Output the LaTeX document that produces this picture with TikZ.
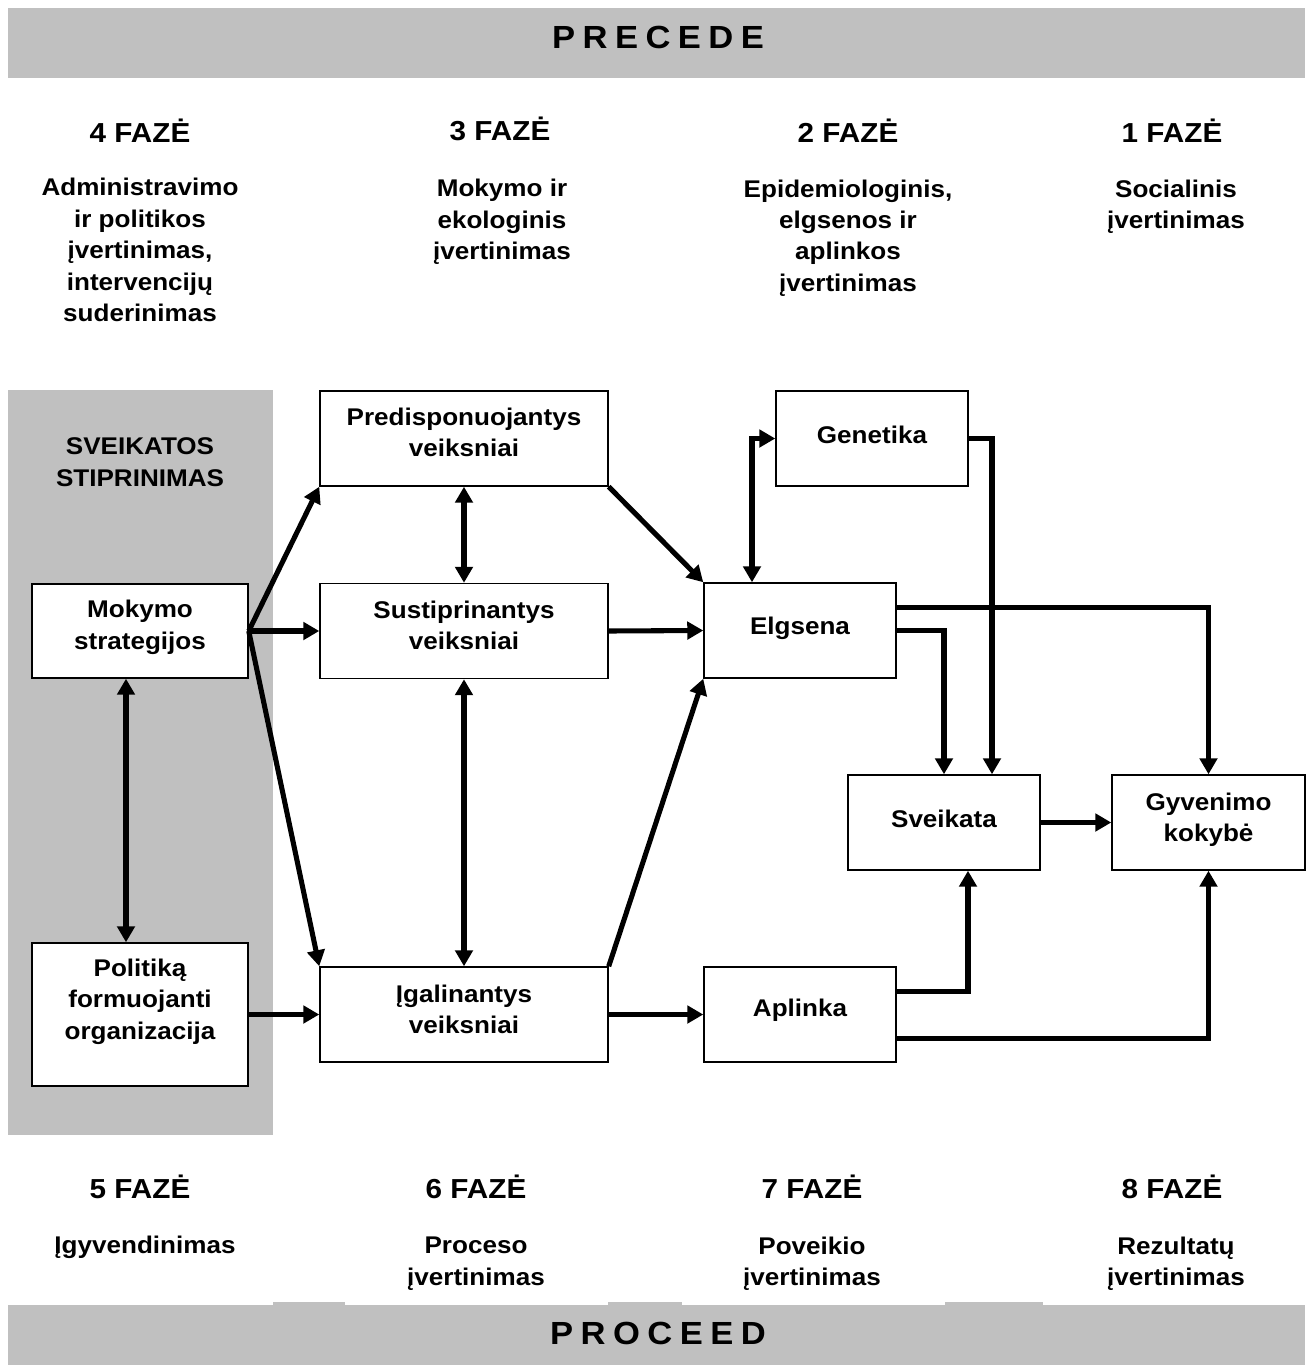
\documentclass[tikz,border=0pt]{standalone}
\usepackage{fontspec}
\setmainfont{Liberation Sans}[FakeStretch=1.08]
\usetikzlibrary{arrows.meta,calc}
\definecolor{bargray}{HTML}{C0C0C0}
\tikzset{
  box/.style={draw, line width=1.1pt, fill=white, inner sep=0pt},
  boxtext/.style={align=center, inner sep=0pt, font=\bfseries\fontsize{18.1}{23.6}\selectfont},
  arr/.style={line width=3.8pt, -{Triangle[length=12pt,width=13pt]}},
  dbl/.style={line width=3.8pt, {Triangle[length=12pt,width=13pt]}-{Triangle[length=12pt,width=13pt]}},
  phase/.style={font=\bfseries\fontsize{20.6}{24}\selectfont},
  desc/.style={align=center, font=\bfseries\fontsize{18.1}{23.6}\selectfont},
  bartext/.style={font=\bfseries\fontsize{24}{28}\selectfont},
}
\newcommand{\lsp}{\hspace{5.6pt}}
\begin{document}
\begin{tikzpicture}[x=0.75pt,y=-0.75pt]
\useasboundingbox (0,0) rectangle (1313,1367);
% bars and gray column
\fill[bargray] (8,8) rectangle (1305,78);
\fill[bargray] (8,1305) rectangle (1305,1365);
\fill[bargray] (273,1302) rectangle (345,1305);
\fill[bargray] (608,1302) rectangle (682,1305);
\fill[bargray] (945,1302) rectangle (1043,1305);
\fill[bargray] (8,390) rectangle (273,1135);
\node[bartext] (precede) at (658,37) {P\lsp R\lsp E\lsp C\lsp E\lsp D\lsp E};
\node[bartext] (proceed) at (658,1333) {P\lsp R\lsp O\lsp C\lsp E\lsp E\lsp D};
% phase headers top
\node[phase] (f4) at (140,131) {4 FAZĖ};
\node[phase] (f3) at (500,129) {3 FAZĖ};
\node[phase] (f2) at (848,131) {2 FAZĖ};
\node[phase] (f1) at (1172,131) {1 FAZĖ};
\node[desc] (d4) at (140,250) {Administravimo\\ir politikos\\įvertinimas,\\intervencijų\\suderinimas};
\node[desc] (d3) at (502,222) {Mokymo ir\\ekologinis\\įvertinimas};
\node[desc] (d2) at (848,238) {Epidemiologinis,\\elgsenos ir\\aplinkos\\įvertinimas};
\node[desc] (d1) at (1176,207) {Socialinis\\įvertinimas};
% phase headers bottom
\node[phase] (f5) at (140,1187) {5 FAZĖ};
\node[phase] (f6) at (476,1187) {6 FAZĖ};
\node[phase] (f7) at (812,1187) {7 FAZĖ};
\node[phase] (f8) at (1172,1187) {8 FAZĖ};
\node[desc] (d5) at (145,1247.5) {Įgyvendinimas};
\node[desc] (d6) at (476,1263.5) {Proceso\\įvertinimas};
\node[desc] (d7) at (812,1263.5) {Poveikio\\įvertinimas};
\node[desc] (d8) at (1176,1263.5) {Rezultatų\\įvertinimas};
% column title
\node[desc] (ss) at (140,462) {SVEIKATOS\\STIPRINIMAS};
% boxes
\node[box, minimum width=162pt, minimum height=70.5pt] (ms) at (140,631) {};
\node[box, minimum width=162pt, minimum height=107.25pt] (po) at (140,1014.5) {};
\node[box, minimum width=216pt, minimum height=71.25pt] (pre) at (464,438.5) {};
\node[box, minimum width=216pt, minimum height=71.25pt] (su) at (464,631) {};
\node[box, minimum width=216pt, minimum height=71.25pt] (ig) at (464,1014.5) {};
\node[box, minimum width=144pt, minimum height=71.25pt] (ge) at (872,438.5) {};
\node[box, minimum width=144pt, minimum height=71.25pt] (el) at (800,630.5) {};
\node[box, minimum width=144pt, minimum height=71.25pt] (ap) at (800,1014.5) {};
\node[box, minimum width=144pt, minimum height=71.25pt] (sv) at (944,822.5) {};
\node[box, minimum width=144.75pt, minimum height=71.25pt] (gy) at (1208.5,822.5) {};
% box texts
\node[boxtext] (mst) at ($(ms.center)+(0,-3.5)$) {Mokymo\\strategijos};
\node[boxtext] (pot) at ($(po.center)+(0,-13)$) {Politiką\\formuojanti\\organizacija};
\node[boxtext] (pret) at ($(pre.center)+(0,-6)$) {Predisponuojantys\\veiksniai};
\node[boxtext] (sut) at ($(su.center)+(0,-5.5)$) {Sustiprinantys\\veiksniai};
\node[boxtext] (igt) at ($(ig.center)+(0,-5)$) {Įgalinantys\\veiksniai};
\node[boxtext] (get) at ($(ge.center)+(0,-4)$) {Genetika};
\node[boxtext] (elt) at ($(el.center)+(0,-2)$) {Elgsena};
\node[boxtext] (apt) at ($(ap.center)+(0,-4)$) {Aplinka};
\node[boxtext] (svt) at ($(sv.center)+(0,-4)$) {Sveikata};
\node[boxtext] (gyt) at ($(gy.center)+(0,-3)$) {Gyvenimo\\kokybė};
% connectors
\draw[arr] (ms.east) -- (pre.south west);
\draw[arr] (ms.east) -- (su.west);
\draw[arr] (ms.east) -- (ig.north west);
\draw[arr] (pre.south east) -- (el.north west);
\draw[arr] (su.east) -- (el.west);
\draw[arr] (ig.north east) -- (el.south west);
\draw[dbl] (pre.south) -- (su.north);
\draw[dbl] (su.south) -- (ig.north);
\draw[dbl] ([xshift=-10.5pt]ms.south) -- ([xshift=-10.5pt]po.north);
\draw[arr] (po.east) -- (ig.west);
\draw[arr] (ig.east) -- (ap.west);
\draw[dbl] ([xshift=-36pt]el.north) |- (ge.west);
\draw[arr] (ge.east) -| ([xshift=36pt]sv.north);
\draw[arr] (el.east) -| (sv.north);
\draw[arr] ([yshift=17.6pt]el.east) -| (gy.north);
\draw[arr] (sv.east) -- (gy.west);
\draw[arr] ([yshift=17.6pt]ap.east) -| ([xshift=18pt]sv.south);
\draw[arr] ([yshift=-18pt]ap.east) -| (gy.south);
\end{tikzpicture}
\end{document}
